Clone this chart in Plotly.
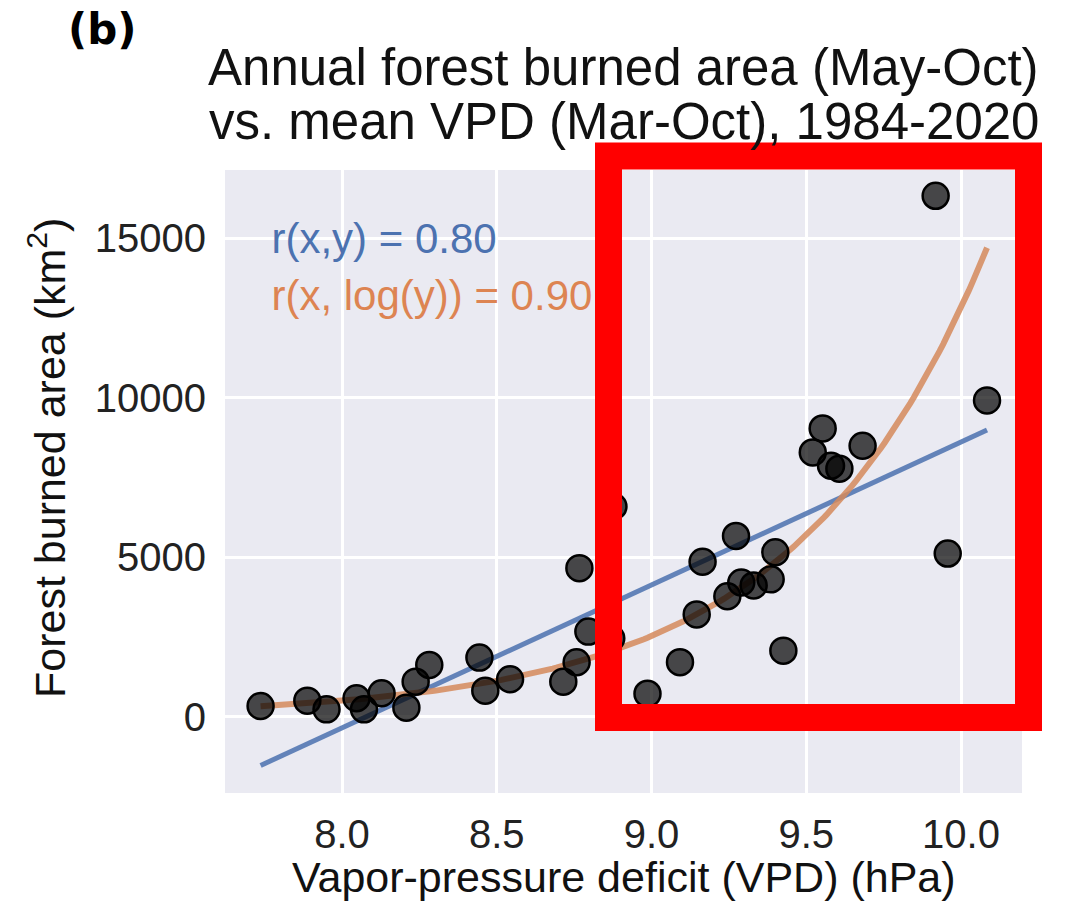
import numpy as np
import plotly.graph_objects as go

# ---- data ----
vpd = [7.737, 7.888, 7.950, 8.047, 8.071, 8.128, 8.208, 8.238, 8.282, 8.444,
       8.463, 8.543, 8.715, 8.758, 8.767, 8.796, 8.870, 8.877, 8.987, 9.092,
       9.146, 9.165, 9.245, 9.273, 9.290, 9.330, 9.385, 9.400, 9.426, 9.521,
       9.553, 9.580, 9.607, 9.682, 9.918, 9.957, 10.084]
burned_area = [330, 496, 225, 571, 225, 728, 277, 1092, 1616, 1846,
               810, 1167, 1092, 1700, 4650, 2661, 2450, 6583, 715, 1704,
               3200, 4850, 3770, 5660, 4200, 4110, 4300, 5150, 2065, 8278,
               9030, 7860, 7770, 8488, 16323, 5108, 9909]
x_ticks = [8.0, 8.5, 9.0, 9.5, 10.0]
x_tick_labels = ["8.0", "8.5", "9.0", "9.5", "10.0"]
y_ticks = [0, 5000, 10000, 15000]
y_tick_labels = ["0", "5000", "10000", "15000"]
r_linear_label = "r(x,y) = 0.80"
r_log_label = "r(x, log(y)) = 0.90"

# ---- fits computed from the data ----
xa = np.array(vpd)
ya = np.array(burned_area, dtype=float)
lin = np.polyfit(xa, ya, 1)
logfit = np.polyfit(xa, np.log(ya), 1)
xfit = np.linspace(xa.min(), xa.max(), 200)
y_lin = np.polyval(lin, xfit)
y_exp = np.exp(np.polyval(logfit, xfit))

BLUE = "#4C72B0"
ORANGE = "#DD8452"
FONT = "Liberation Sans, Arial, sans-serif"

W, H = 1068, 905
L, R, T, B = 225, 1022, 170, 793


def px(xp):
    return (xp - L) / (R - L)


def py(yp):
    return (B - yp) / (B - T)


fig = go.Figure()
fig.add_trace(go.Scatter(
    x=xfit, y=y_lin, mode="lines",
    line=dict(color=BLUE, width=5), opacity=0.85,
    hoverinfo="skip", showlegend=False))
fig.add_trace(go.Scatter(
    x=xfit, y=y_exp, mode="lines",
    line=dict(color="#D68A5C", width=6), opacity=0.85,
    hoverinfo="skip", showlegend=False))
fig.add_trace(go.Scatter(
    x=vpd, y=burned_area, mode="markers",
    marker=dict(size=26, color="rgba(0,0,0,0.7)",
                line=dict(color="black", width=2.5)),
    showlegend=False))
# correlation labels as text traces (so the highlight box sits above them)
fig.add_trace(go.Scatter(
    x=[7.772, 7.772], y=[14857, 13071], mode="text",
    text=[r_linear_label, r_log_label], textposition="middle right",
    textfont=dict(family=FONT, size=42, color=[BLUE, ORANGE]),
    cliponaxis=False, hoverinfo="skip", showlegend=False))

fig.update_xaxes(
    range=[7.622, 10.197], tickvals=x_ticks, ticktext=x_tick_labels,
    showgrid=True, gridcolor="white", gridwidth=3, zeroline=False,
    showline=False, ticks="", ticklabelstandoff=14,
    tickfont=dict(family=FONT, size=40, color="#222222"))
fig.update_yaxes(
    range=[-2398, 17132], tickvals=y_ticks, ticktext=y_tick_labels,
    showgrid=True, gridcolor="white", gridwidth=3, zeroline=False,
    showline=False, ticks="", ticklabelstandoff=18,
    tickfont=dict(family=FONT, size=40, color="#222222"))

annotations = [
    dict(text="Annual forest burned area (May-Oct)", x=0.5, y=py(67),
         font=dict(family=FONT, size=51, color="#111111")),
    dict(text="vs. mean VPD (Mar-Oct), 1984-2020", x=0.5, y=py(121.5),
         font=dict(family=FONT, size=51, color="#111111")),
    dict(text="<b>(b)</b>", x=px(66), y=py(30), xanchor="left",
         font=dict(family="DejaVu Sans, sans-serif", size=42, color="black")),
    dict(text="Vapor-pressure deficit (VPD) (hPa)", x=0.5, y=py(877),
         font=dict(family=FONT, size=43, color="#111111")),
    dict(text="Forest burned area (km<sup>2</sup>)", x=px(47), y=py(458),
         textangle=-90, font=dict(family=FONT, size=43, color="#111111")),
]
for a in annotations:
    a.setdefault("xanchor", "center")
    a.update(xref="paper", yref="paper", yanchor="middle", showarrow=False)

fig.update_layout(
    width=W, height=H,
    margin=dict(l=L, r=W - R, t=T, b=H - B, pad=0),
    paper_bgcolor="white", plot_bgcolor="#EAEAF2",
    annotations=annotations,
    shapes=[dict(type="rect", xref="paper", yref="paper",
                 x0=px(608.5), x1=px(1028.5), y0=py(717.5), y1=py(156),
                 line=dict(color="#FF0000", width=27),
                 fillcolor="rgba(0,0,0,0)", layer="above")],
)

fig.write_html("out.html")
